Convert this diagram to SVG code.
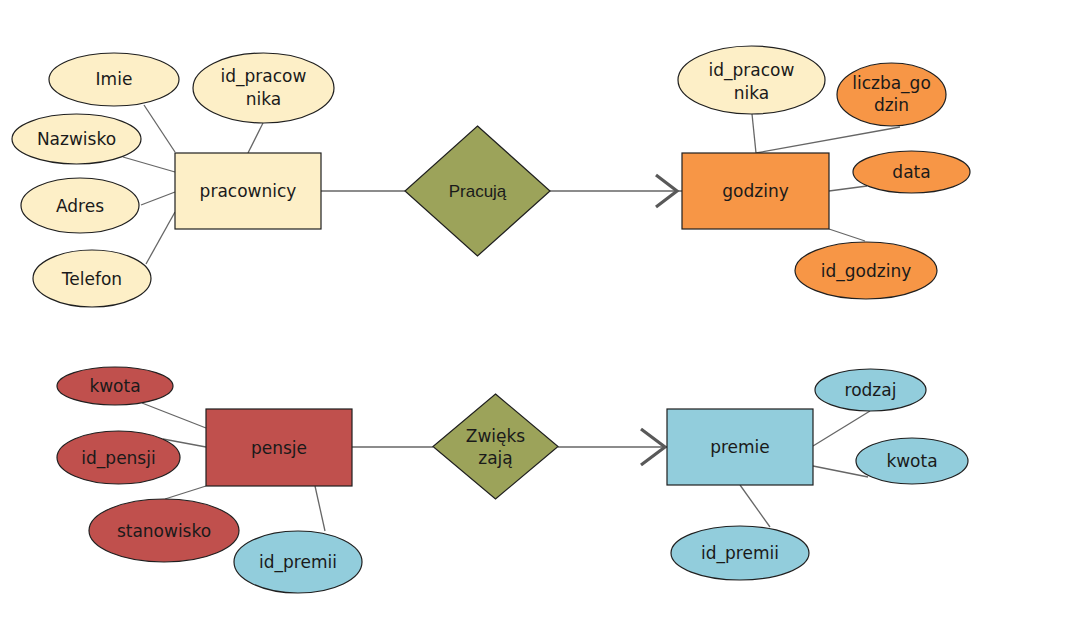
<svg xmlns="http://www.w3.org/2000/svg" width="1074" height="622" viewBox="0 0 1074 622">
<style>
text{font-family:"DejaVu Sans",Verdana,sans-serif;font-size:17px;fill:#1a1a1a;text-anchor:middle}
.ar{font-family:"Liberation Sans",Arial,sans-serif}
.n{stroke:#1f1f1f;stroke-width:1.2}
.tan{fill:#fdefc7}
.org{fill:#f79646}
.red{fill:#c0504d}
.cyn{fill:#92cddc}
.olv{fill:#9ca35a}
.c line,.c path{stroke:#666;stroke-width:1.3;fill:none}
.c .ah{stroke:#595959;stroke-width:3.2;fill:none}
</style>
<rect width="1074" height="622" fill="#fff"/>
<g class="c" id="connectors">
<line x1="144" y1="105" x2="175" y2="152"/>
<line x1="263" y1="123" x2="248" y2="153"/>
<line x1="123" y1="157" x2="175" y2="172"/>
<line x1="141" y1="205" x2="175" y2="192"/>
<line x1="146" y1="264" x2="175" y2="212"/>
<line x1="321" y1="191" x2="405" y2="191"/>
<line x1="550" y1="191" x2="682" y2="191"/>
<path class="ah" d="M656,175 L677,191 L656,207"/>
<line x1="752" y1="114" x2="756" y2="153"/>
<line x1="756" y1="153" x2="900" y2="127"/>
<line x1="829" y1="191" x2="867" y2="186"/>
<line x1="829" y1="229" x2="865" y2="241"/>
<line x1="142" y1="403" x2="206" y2="428"/>
<line x1="163" y1="439" x2="206" y2="447"/>
<line x1="165" y1="499" x2="206" y2="486"/>
<line x1="315" y1="486" x2="325" y2="531"/>
<line x1="352" y1="447" x2="433" y2="447"/>
<line x1="558" y1="447" x2="667" y2="447"/>
<path class="ah" d="M641,429 L665,447 L641,465"/>
<line x1="813" y1="446" x2="870" y2="411"/>
<line x1="813" y1="466" x2="868" y2="477"/>
<line x1="740" y1="485" x2="770" y2="527"/>
</g>
<g id="pracownicy"><rect class="n tan" x="175" y="153" width="146" height="76"/><text x="248" y="197">pracownicy</text></g>
<g id="imie"><ellipse class="n tan" cx="114" cy="79.5" rx="65" ry="26.5"/><text x="114" y="85">Imie</text></g>
<g id="id_pracownika1"><ellipse class="n tan" cx="263.5" cy="88" rx="70.5" ry="35"/><text x="263.5" y="82">id_pracow</text><text x="263.5" y="105">nika</text></g>
<g id="nazwisko"><ellipse class="n tan" cx="76.5" cy="139" rx="64.5" ry="25"/><text x="76.5" y="145">Nazwisko</text></g>
<g id="adres"><ellipse class="n tan" cx="80" cy="205.5" rx="59" ry="27.5"/><text x="80" y="212">Adres</text></g>
<g id="telefon"><ellipse class="n tan" cx="92" cy="278.5" rx="59" ry="28.5"/><text x="92" y="285">Telefon</text></g>
<g id="pracuja"><polygon class="n olv" points="477.5,126 550,191 477.5,256 405,191"/><text class="ar" x="477.5" y="197">Pracują</text></g>
<g id="godziny"><rect class="n org" x="682" y="153" width="147" height="76"/><text x="755.5" y="197">godziny</text></g>
<g id="id_pracownika2"><ellipse class="n tan" cx="751.5" cy="80" rx="73.5" ry="34"/><text x="751.5" y="76">id_pracow</text><text x="751.5" y="99">nika</text></g>
<g id="liczba_godzin"><ellipse class="n org" cx="891.5" cy="94.5" rx="54.5" ry="31.5"/><text x="891.5" y="89">liczba_go</text><text x="891.5" y="111">dzin</text></g>
<g id="data"><ellipse class="n org" cx="911.5" cy="172" rx="58.5" ry="21"/><text x="911.5" y="178">data</text></g>
<g id="id_godziny"><ellipse class="n org" cx="866" cy="270.5" rx="71" ry="28.5"/><text x="866" y="277">id_godziny</text></g>
<g id="pensje"><rect class="n red" x="206" y="409" width="146" height="77"/><text x="279" y="454">pensje</text></g>
<g id="kwota1"><ellipse class="n red" cx="115" cy="386" rx="58" ry="19"/><text x="115" y="392">kwota</text></g>
<g id="id_pensji"><ellipse class="n red" cx="118.5" cy="457.5" rx="61.5" ry="26.5"/><text x="118.5" y="464">id_pensji</text></g>
<g id="stanowisko"><ellipse class="n red" cx="164" cy="530.5" rx="75" ry="31.5"/><text x="164" y="537">stanowisko</text></g>
<g id="id_premii1"><ellipse class="n cyn" cx="298" cy="562" rx="64" ry="31"/><text x="298" y="568">id_premii</text></g>
<g id="zwiekszaja"><polygon class="n olv" points="495.5,394 558,446.5 495.5,499 433,446.5"/><text x="495.5" y="442">Zwięks</text><text x="495.5" y="464">zają</text></g>
<g id="premie"><rect class="n cyn" x="667" y="409" width="146" height="76"/><text x="740" y="453">premie</text></g>
<g id="rodzaj"><ellipse class="n cyn" cx="870.5" cy="390" rx="55.5" ry="21"/><text x="870.5" y="396">rodzaj</text></g>
<g id="kwota2"><ellipse class="n cyn" cx="912" cy="461" rx="56" ry="23"/><text x="912" y="467">kwota</text></g>
<g id="id_premii2"><ellipse class="n cyn" cx="740" cy="553" rx="69" ry="27"/><text x="740" y="559">id_premii</text></g>
</svg>
